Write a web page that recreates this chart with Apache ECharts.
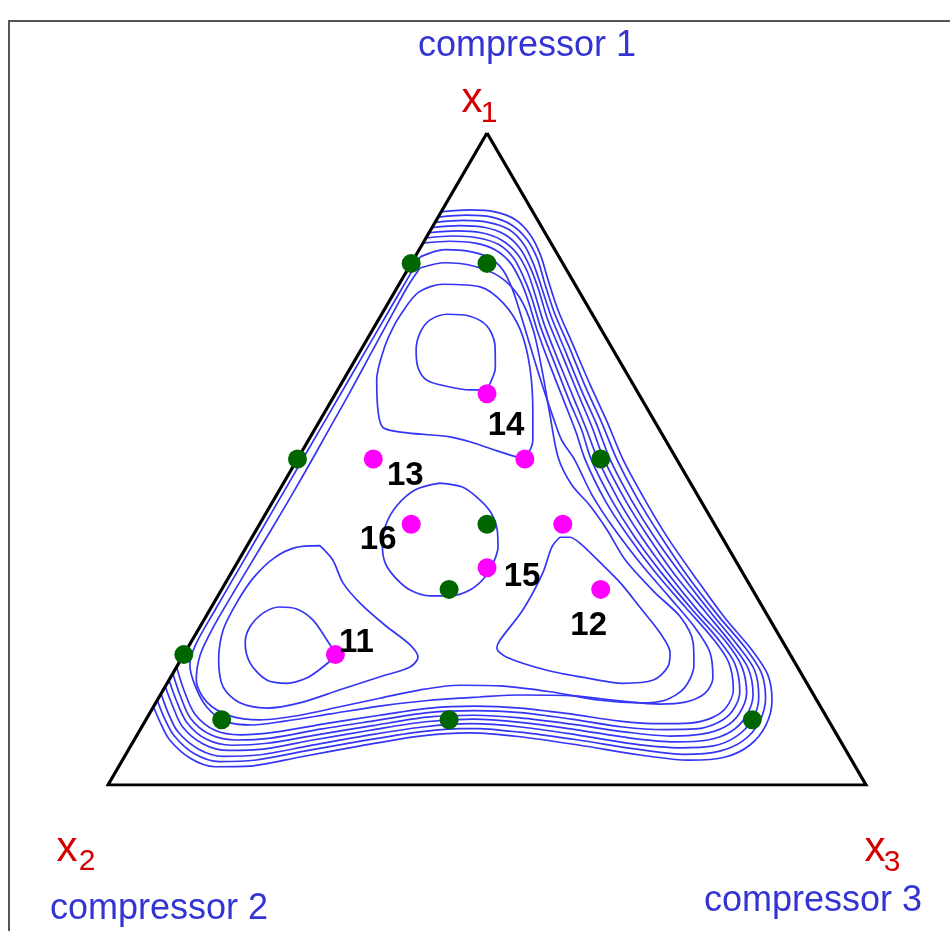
<!DOCTYPE html>
<html>
<head>
<meta charset="utf-8">
<script src="https://cdn.jsdelivr.net/npm/echarts@6/dist/echarts.min.js"></script>
<style>
  html, body { margin: 0; padding: 0; background: #fff; }
  #chart { width: 950px; height: 931px; }
</style>
</head>
<body>
<div id="chart"></div>
<script>
// Mixture simplex: compositions are given as percentages [x1, x2, x3].
const vertices = [[100, 0, 0], [0, 100, 0], [0, 0, 100]];
const componentNames = ['compressor 1', 'compressor 2', 'compressor 3'];
const componentSymbols = ['1', '2', '3'];

// Design points on the simplex, percent [x1, x2, x3]
const greenPoints = [
  [80, 20, 0], [80, 10, 10], [50, 50, 0], [50, 10, 40], [40, 30, 30],
  [30, 40, 30], [20, 80, 0], [10, 80, 10], [10, 50, 40], [10, 10, 80]
];
const magentaPoints = [
  [60, 20, 20], [50, 20, 30], [50, 40, 10], [40, 40, 20],
  [40, 20, 40], [33.33, 33.33, 33.34], [30, 20, 50], [20, 60, 20]
];
const magentaNames = ['14', '', '13', '16', '', '15', '12', '11'];

// Response contours, each vertex as percent [x1, x3] (x2 = 100 - x1 - x3)
const contourOuter1 = [[87.9,0],[88.2,3.7],[87.9,7.1],[86.7,10.4],[84.4,13.5],[81.3,16.4],[77.5,19.3],[72.9,22.9],[67.5,27.6],[61.4,32.9],[55.7,38.0],[49.9,43.0],[43.7,49.0],[37.9,54.9],[31.8,61.6],[25.6,68.6],[20.7,74.6],[16.9,78.6],[13.0,81.1],[9.2,82.2],[6.1,81.6],[4.3,79.3],[3.8,74.9],[4.6,67.9],[6.1,59.2],[7.4,50.7],[8.0,43.8],[7.5,37.4],[6.0,30.3],[4.3,23.2],[2.9,17.3],[2.8,12.7],[4.1,8.8],[6.9,4.7],[9.7,2.0],[12.0,0]];
const contourOuter2 = [[87.1,0],[87.4,3.6],[87.1,7.1],[85.9,10.3],[83.7,13.4],[80.7,16.3],[77.0,19.1],[72.4,22.7],[67.0,27.4],[60.9,32.6],[55.4,37.5],[49.9,42.2],[43.7,48.1],[38.0,54.0],[31.9,60.6],[25.9,67.6],[21.0,73.6],[17.2,77.6],[13.3,80.1],[9.6,81.1],[6.8,80.4],[5.2,78.1],[4.7,73.8],[5.5,67.0],[6.9,58.6],[8.1,50.3],[8.7,43.6],[8.2,37.3],[6.8,30.3],[5.2,23.3],[3.8,17.4],[3.6,12.9],[4.8,9.0],[7.6,4.9],[10.5,2.1],[13.0,0]];
const contourOuter3 = [[86.3,0],[86.6,3.6],[86.3,7.0],[85.2,10.3],[83.0,13.3],[80.0,16.1],[76.5,18.9],[71.9,22.5],[66.5,27.1],[60.4,32.3],[55.2,36.9],[49.9,41.3],[43.7,47.2],[38.0,53.1],[32.1,59.7],[26.2,66.6],[21.3,72.5],[17.6,76.5],[13.5,79.1],[10.1,80.0],[7.5,79.2],[6.0,76.9],[5.7,72.6],[6.3,66.1],[7.7,58.0],[8.9,50.0],[9.4,43.3],[8.9,37.1],[7.6,30.4],[6.0,23.5],[4.6,17.5],[4.4,13.0],[5.5,9.2],[8.2,5.1],[11.3,2.2],[14.0,0]];
const contourOuter4 = [[85.5,0],[85.8,3.5],[85.5,7.0],[84.4,10.2],[82.3,13.2],[79.4,16.0],[76.0,18.8],[71.4,22.3],[66.0,26.9],[59.9,32.1],[54.9,36.4],[49.9,40.5],[43.7,46.4],[38.1,52.2],[32.2,58.7],[26.5,65.6],[21.6,71.5],[17.9,75.5],[13.8,78.2],[10.5,78.9],[8.2,78.1],[6.9,75.7],[6.6,71.5],[7.2,65.3],[8.5,57.4],[9.6,49.6],[10.1,43.1],[9.7,37.0],[8.4,30.4],[6.9,23.6],[5.5,17.7],[5.3,13.2],[6.3,9.4],[8.9,5.4],[12.2,2.4],[15.1,0]];
const contourOuter5 = [[84.7,0],[85.0,3.5],[84.7,6.9],[83.6,10.1],[81.6,13.1],[78.8,15.9],[75.4,18.6],[70.8,22.1],[65.4,26.6],[59.3,31.8],[54.6,35.8],[49.9,39.7],[43.7,45.5],[38.2,51.2],[32.4,57.7],[26.7,64.5],[22.0,70.5],[18.2,74.5],[14.1,77.2],[10.9,77.8],[8.9,76.9],[7.8,74.4],[7.5,70.4],[8.1,64.4],[9.3,56.7],[10.3,49.2],[10.7,42.9],[10.4,36.9],[9.1,30.4],[7.7,23.7],[6.4,17.8],[6.1,13.3],[7.0,9.5],[9.6,5.6],[13.0,2.5],[16.1,0]];
const contourOuter6 = [[83.9,0],[84.2,3.4],[83.9,6.9],[82.9,10.1],[80.9,13.0],[78.1,15.7],[74.9,18.4],[70.3,21.9],[64.9,26.4],[58.8,31.5],[54.4,35.3],[49.9,38.8],[43.7,44.6],[38.2,50.3],[32.5,56.8],[27.0,63.5],[22.3,69.4],[18.6,73.4],[14.3,76.2],[11.4,76.7],[9.6,75.7],[8.6,73.2],[8.5,69.2],[8.9,63.5],[10.1,56.1],[11.1,48.9],[11.4,42.6],[11.1,36.7],[9.9,30.5],[8.6,23.9],[7.2,17.9],[6.9,13.5],[7.7,9.7],[10.2,5.8],[13.8,2.6],[17.1,0]];
const contourOuter7 = [[83.1,0],[83.4,3.4],[83.1,6.9],[82.1,10.0],[80.2,12.9],[77.5,15.6],[74.4,18.2],[69.8,21.7],[64.4,26.1],[58.3,31.2],[54.1,34.7],[49.9,38.0],[43.7,43.7],[38.3,49.4],[32.7,55.8],[27.3,62.5],[22.6,68.4],[18.9,72.4],[14.6,75.2],[11.8,75.6],[10.3,74.5],[9.5,72.0],[9.4,68.1],[9.8,62.6],[10.9,55.5],[11.8,48.5],[12.1,42.4],[11.8,36.6],[10.7,30.5],[9.4,24.0],[8.1,18.0],[7.7,13.6],[8.4,9.9],[10.9,6.0],[14.6,2.7],[18.1,0]];
// Second band: enters at the upper x3 = 0 side, runs round the simplex and hugs that side back up
const contourBand2 = [[81.0,0.7],[82.1,3.4],[81.8,6.9],[80.8,10.0],[79.0,12.6],[76.2,15.2],[72.9,17.8],[68.3,21.3],[62.4,25.8],[56.3,30.6],[52.9,33.4],[49.9,36.6],[44.5,41.6],[39.4,47.0],[33.7,53.6],[28.7,59.8],[24.2,65.3],[20.4,69.2],[16.4,71.6],[14.0,71.7],[12.7,69.8],[12.4,66.6],[12.9,61.1],[13.7,54.1],[13.8,47.5],[13.5,42.3],[13.0,36.0],[12.1,29.8],[10.9,23.9],[9.8,18.4],[9.2,14.4],[9.8,10.5],[12.0,7.0],[15.2,3.9],[18.4,1.6],[21.5,0.8],[27,0.7],[34,0.7],[42,0.7],[50,0.7],[58,0.7],[66,0.7],[73,0.7],[78,0.7],[81.0,0.7]];
const contourBand1 = [[79.3,1.5],[80.1,4.4],[79.6,8.4],[77.9,12.8],[74.7,17.0],[69.8,21.2],[63.7,25.4],[56.8,29.9],[50.2,34.3],[46.0,38.2],[42.9,42.1],[39.1,46.3],[34.5,51.0],[29.5,57.4],[25.8,62.6],[21.8,66.3],[18.4,68.1],[14.9,68.6],[13.0,67.0],[12.6,63.9],[13.0,58.4],[14.3,51.2],[15.2,44.1],[15.3,38.8],[14.6,33.9],[13.3,29.2],[12.0,24.6],[10.7,20.0],[10.0,15.1],[10.6,10.8],[12.7,6.7],[16.1,3.6],[19.9,2.2],[24,1.8],[30,1.8],[36,1.9],[42,2.0],[48,2.0],[54,1.9],[60,1.8],[66,1.6],[72,1.4],[76.5,1.3],[79.3,1.5]];
const lobe14Outer = [[72.9,2.6],[75.6,3.2],[76.8,5.8],[76.4,10.9],[73.9,15.2],[69.8,19.5],[64.1,23.6],[57.1,27.5],[52.9,29.6],[50.9,30.0],[50.2,29.5],[51.1,26.2],[52.5,21.9],[53.4,18.4],[54.0,12.5],[54.8,8.9],[57.1,7.1],[62.1,4.4],[67.2,2.9],[70.9,2.5],[72.9,2.6]];
const lobe14Inner = [[60.6,19.6],[60.6,17.5],[61.2,13.9],[62.1,11.0],[64.0,8.9],[66.7,7.3],[69.3,6.5],[71.3,6.8],[72.2,8.7],[71.9,11.8],[70.4,14.8],[67.5,17.3],[64.0,19.1],[61.7,19.6],[60.6,19.6]];
const lobe12 = [[38.0,40.6],[36.5,40.3],[32.5,41.1],[26.8,41.3],[22.2,40.6],[21.0,40.8],[19.6,42.8],[17.6,49.1],[16.4,55.0],[15.6,60.1],[16.1,63.9],[18.1,64.8],[20.3,64.0],[23.3,61.2],[27.3,56.5],[31.0,52.1],[34.1,47.9],[37.1,43.7],[38.0,41.9],[38.0,40.6]];
const lobe11Outer = [[36.7,9.6],[34.5,12.4],[31.0,15.5],[27.9,19.3],[24.5,24.3],[21.5,29.1],[19.6,31.1],[18.1,30.8],[16.6,27.6],[14.6,23.3],[12.6,19.0],[11.8,15.1],[12.6,11.1],[15.0,7.7],[19.2,5.0],[23.8,3.3],[27.9,3.0],[31.8,3.3],[34.8,4.5],[36.4,6.5],[36.7,9.6]];
const lobe11Inner = [[19.9,20.2],[22.2,17.8],[25.3,14.4],[27.0,11.4],[27.3,9.0],[26.4,7.3],[24.2,6.6],[21.8,7.2],[18.7,9.4],[16.1,12.9],[15.6,15.8],[16.4,18.0],[18.1,19.3],[19.9,20.2]];
const centreRing = [[46.3,20.6],[45.7,23.9],[44.0,26.8],[41.9,29.5],[39.1,31.8],[36.5,33.2],[34.1,33.8],[31.9,33.8],[29.9,32.8],[29.0,30.6],[29.0,28.0],[29.9,24.9],[31.8,22.0],[34.1,19.5],[36.8,17.8],[39.9,16.7],[42.9,16.7],[45.3,17.9],[46.3,20.6]];

const contours = [
  contourOuter1, contourOuter2, contourOuter3, contourOuter4, contourOuter5,
  contourOuter6, contourOuter7, contourBand2, contourBand1,
  lobe14Outer, lobe14Inner, lobe12, lobe11Outer, lobe11Inner, centreRing
];

// Ternary -> plane: horizontal = x3 + x1/2, vertical = x1 (height of the simplex)
const fromComposition = p => [p[2] + p[0] / 2, p[0]];
const fromPair = p => [p[1] + p[0] / 2, p[0]];

// Label offsets for the numbered runs
const labelOffsets = {
  '14': [19, 32], '13': [32, 17], '16': [-33, 16],
  '15': [35, 9], '12': [-12, 37], '11': [21, -12]
};

const FONT = "'Liberation Sans', Arial, sans-serif";
const blueText = '#3434d4';
const redText = '#d40000';
const contourColor = '#3535f5';

const series = [];

contours.forEach(c => {
  series.push({
    type: 'line',
    data: c.map(fromPair),
    smooth: 0.3,
    symbol: 'none',
    silent: true,
    z: 2,
    lineStyle: { color: contourColor, width: 1.7 }
  });
});

series.push({
  type: 'line',
  data: vertices.concat([vertices[0]]).map(fromComposition),
  symbol: 'none',
  silent: true,
  z: 3,
  lineStyle: { color: '#000', width: 3.2, join: 'miter' }
});

series.push({
  type: 'scatter',
  data: greenPoints.map(fromComposition),
  symbol: 'circle',
  symbolSize: 19,
  z: 5,
  itemStyle: { color: '#006600', opacity: 1 }
});

series.push({
  type: 'scatter',
  symbol: 'circle',
  symbolSize: 19,
  z: 5,
  itemStyle: { color: '#ff00ff', opacity: 1 },
  data: magentaPoints.map((p, i) => {
    const name = magentaNames[i];
    const item = { value: fromComposition(p), name: name };
    if (name) {
      item.label = {
        show: true,
        formatter: name,
        position: 'inside',
        offset: labelOffsets[name],
        color: '#000',
        opacity: 1,
        fontSize: 33,
        fontWeight: 'bold',
        fontFamily: FONT
      };
    }
    return item;
  })
});

const graphics = [
  { type: 'rect', shape: { x: 9, y: 21, width: 1000, height: 1000 },
    style: { fill: 'none', stroke: '#555', lineWidth: 2 }, silent: true },
  { type: 'text', x: 527, y: 46, style: { text: componentNames[0], font: '36px ' + FONT, fill: blueText, textAlign: 'center', textVerticalAlign: 'middle' } },
  { type: 'text', x: 159, y: 909, style: { text: componentNames[1], font: '36px ' + FONT, fill: blueText, textAlign: 'center', textVerticalAlign: 'middle' } },
  { type: 'text', x: 813, y: 901, style: { text: componentNames[2], font: '36px ' + FONT, fill: blueText, textAlign: 'center', textVerticalAlign: 'middle' } },
  { type: 'text', x: 472, y: 100, style: { text: 'x', font: '42px ' + FONT, fill: redText, textAlign: 'center', textVerticalAlign: 'middle' } },
  { type: 'text', x: 489, y: 114, style: { text: componentSymbols[0], font: '30px ' + FONT, fill: redText, textAlign: 'center', textVerticalAlign: 'middle' } },
  { type: 'text', x: 67, y: 849, style: { text: 'x', font: '42px ' + FONT, fill: redText, textAlign: 'center', textVerticalAlign: 'middle' } },
  { type: 'text', x: 87, y: 862, style: { text: componentSymbols[1], font: '30px ' + FONT, fill: redText, textAlign: 'center', textVerticalAlign: 'middle' } },
  { type: 'text', x: 875, y: 849, style: { text: 'x', font: '42px ' + FONT, fill: redText, textAlign: 'center', textVerticalAlign: 'middle' } },
  { type: 'text', x: 892, y: 863, style: { text: componentSymbols[2], font: '30px ' + FONT, fill: redText, textAlign: 'center', textVerticalAlign: 'middle' } }
];

const chart = echarts.init(document.getElementById('chart'), null, { renderer: 'canvas' });
chart.setOption({
  animation: false,
  backgroundColor: '#fff',
  grid: { left: 108, right: 84, top: 133, bottom: 146, containLabel: false },
  xAxis: { type: 'value', min: 0, max: 100, show: false },
  yAxis: { type: 'value', min: 0, max: 100, show: false },
  graphic: graphics,
  series: series
});
</script>
</body>
</html>
